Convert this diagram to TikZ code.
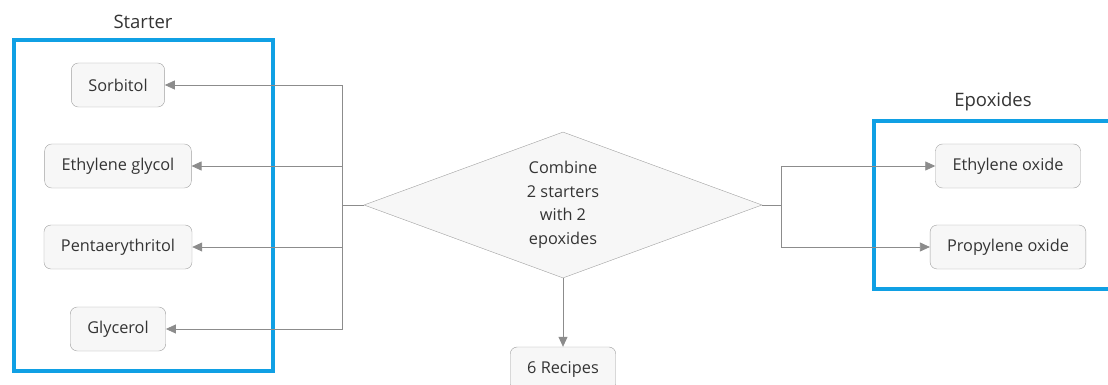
\documentclass[tikz,border=0pt]{standalone}
\usepackage{fontspec}
\setmainfont{Open Sans}
\usepackage{tikz}
\usetikzlibrary{positioning,arrows.meta,shapes.geometric}
\usepackage{color}

\definecolor{framblue}{RGB}{16,160,228}
\definecolor{linegray}{RGB}{140,140,140}
\definecolor{boxgray}{RGB}{247,247,247}
\definecolor{edgegray}{RGB}{160,160,160}
\definecolor{txtgray}{RGB}{52,52,52}

\tikzset{
  item/.style={draw=edgegray,fill=boxgray,rounded corners=7pt,minimum height=44pt,inner xsep=17pt,text=txtgray},
  arr/.style={draw=linegray,line width=0.8pt,-{Triangle[length=10pt,width=9pt]}},
  frame/.style={draw=framblue,line width=4pt},
  title/.style={text=txtgray,font=\fontsize{18.5}{22}\selectfont},
}

\begin{document}
\begin{tikzpicture}[x=1pt,y=-1pt,font=\fontsize{16.3}{23.5}\selectfont]
\useasboundingbox (0,0) rectangle (1108,385);

\draw[frame] (14,40) rectangle (273,371);
\draw[frame] (874,121) rectangle (1120,289);

\node[title] (startlbl) at (143,22) {Starter};
\node[title] (epolbl) at (993,102) {Epoxides};

\node[item] (sorb) at (118,85) {Sorbitol};
\node[item] (eglyc) at (118,166) {Ethylene glycol};
\node[item] (penta) at (118,247) {Pentaerythritol};
\node[item] (glyc) at (118,329) {Glycerol};

\node[item] (eox) at (1008,166) {Ethylene oxide};
\node[item] (pox) at (1008,247) {Propylene oxide};

\node[draw=edgegray,fill=boxgray,diamond,aspect=2.7,minimum width=398pt,minimum height=146pt,inner sep=0pt,align=center,text=txtgray] (comb) at (563,205) {Combine\\2 starters\\with 2\\epoxides};

\node[item] (recipes) at (563,369) {6 Recipes};

\coordinate (jl) at (342,205);
\coordinate (jr) at (781,205);

\draw[draw=linegray,line width=0.8pt] (comb.west) -- (jl);
\draw[arr] (jl) |- (sorb);
\draw[arr] (jl) |- (eglyc);
\draw[arr] (jl) |- (penta);
\draw[arr] (jl) |- (glyc);

\draw[draw=linegray,line width=0.8pt] (comb.east) -- (jr);
\draw[arr] (jr) |- (eox);
\draw[arr] (jr) |- (pox);

\draw[arr] (comb.south) -- (recipes);
\end{tikzpicture}
\end{document}
